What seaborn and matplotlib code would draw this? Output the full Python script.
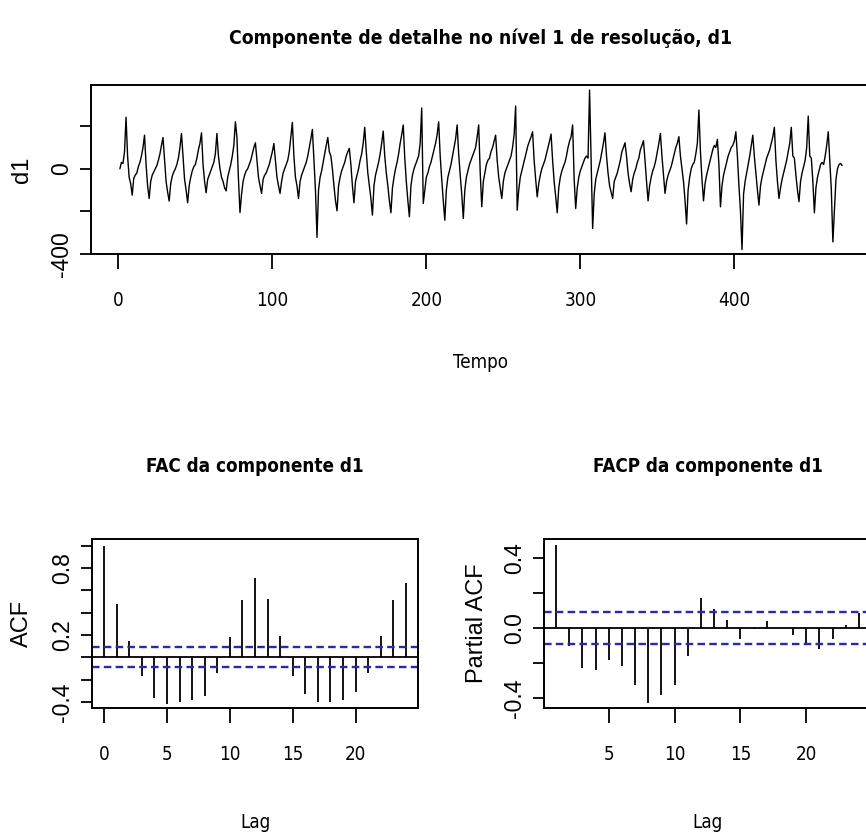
import numpy as np
import pandas as pd
import matplotlib
matplotlib.use("Agg")
import matplotlib.pyplot as plt
import seaborn as sns
from matplotlib import font_manager

# detail component d1 (t = 1..470)
d1_values = [
    0, 30, 25, 80, 242, 60, -40, -70, -124, -45,
    -30, -20, 10, 30, 60, 100, 158, 20, -80, -140,
    -60, -30, -15, 0, 15, 40, 70, 110, 147, 40,
    -60, -110, -152, -70, -35, -15, 0, 20, 50, 100,
    166, 60, -50, -100, -160, -80, -40, -10, 10, 20,
    50, 90, 120, 169, 20, -60, -113, -50, -30, -10,
    10, 30, 70, 166, 60, 0, -40, -60, -90, -104,
    -40, -10, 20, 60, 110, 221, 150, -50, -206, -120,
    -60, -30, -10, 0, 20, 40, 70, 100, 122, 40,
    -40, -80, -116, -50, -30, -20, 0, 20, 50, 80,
    119, 40, -40, -80, -116, -60, -20, 0, 20, 40,
    80, 150, 218, 60, -40, -80, -140, -60, -30, -10,
    10, 30, 60, 100, 140, 185, 40, -100, -323, -100,
    -40, -10, 30, 70, 110, 147, 80, 60, 0, -80,
    -150, -198, -80, -40, -10, 10, 30, 60, 80, 96,
    20, -80, -160, -60, -30, 0, 40, 70, 120, 195,
    80, -20, -80, -140, -218, -80, -30, 0, 30, 70,
    120, 177, 60, -20, -80, -150, -207, -90, -40, 0,
    30, 70, 120, 160, 206, 50, -60, -150, -226, -80,
    -30, 0, 20, 40, 60, 120, 286, -163, -100, -40,
    -20, 10, 30, 60, 90, 120, 160, 221, 60, -50,
    -150, -242, -100, -40, -10, 20, 60, 100, 140, 206,
    70, -30, -120, -234, -100, -40, -10, 20, 40, 60,
    80, 100, 150, 206, -20, -179, -60, -20, 20, 40,
    50, 80, 100, 130, 158, 40, -40, -90, -140, -60,
    -20, 0, 20, 40, 60, 100, 160, 295, -195, -100,
    -40, -10, 20, 50, 80, 110, 130, 150, 174, 40,
    -50, -132, -70, -30, 0, 20, 40, 70, 100, 130,
    163, 40, -60, -130, -207, -90, -40, -10, 10, 30,
    60, 100, 130, 150, 206, -50, -187, -90, -40, -10,
    10, 30, 50, 60, 50, 370, 40, -281, -120, -50,
    -20, 10, 40, 80, 120, 169, 60, -20, -80, -110,
    -140, -60, -40, -20, 10, 40, 80, 100, 122, 60,
    -20, -70, -108, -50, -20, 0, 30, 50, 90, 110,
    132, 40, -60, -151, -80, -40, -10, 10, 40, 80,
    120, 166, 60, -30, -116, -60, -30, -10, 10, 40,
    70, 100, 120, 151, 60, 0, -60, -150, -260, -100,
    -40, 0, 20, 30, 70, 120, 276, 80, -50, -151,
    -70, -30, 0, 30, 60, 90, 110, 100, 138, 20,
    -179, -80, -30, 0, 30, 60, 80, 100, 110, 130,
    174, 60, -80, -200, -380, -120, -60, -20, 20, 60,
    110, 158, 60, -20, -100, -171, -80, -40, -10, 20,
    50, 70, 90, 120, 150, 195, 40, -60, -140, -90,
    -50, -20, 10, 40, 80, 120, 195, 60, 50, -30,
    -100, -155, -60, -20, 10, 40, 100, 248, 60, 50,
    -60, -207, -90, -40, -10, 20, 30, 20, 60, 110,
    174, 40, -100, -344, -200, -50, 0, 20, 25, 15,
]

# sample autocorrelations, lags 0..24
acf_lags = list(range(0, 25))
acf_values = [1.0, 0.476, 0.143, -0.167, -0.36, -0.415, -0.40, -0.38, -0.345,
              -0.14, 0.18, 0.51, 0.715, 0.525, 0.195, -0.167, -0.33, -0.40,
              -0.40, -0.38, -0.315, -0.14, 0.195, 0.51, 0.665]

# partial autocorrelations, lags 1..24
pacf_lags = list(range(1, 25))
pacf_values = [0.476, -0.105, -0.229, -0.242, -0.185, -0.215, -0.328, -0.429,
               -0.385, -0.328, -0.162, 0.171, 0.109, 0.044, -0.061, -0.005,
               0.042, 0.003, -0.042, -0.09, -0.118, -0.061, 0.017, 0.086]

top_xticks = [0, 100, 200, 300, 400]
top_yticks = [-400, -200, 0, 200]
top_ylabels = ["-400", "", "0", ""]
acf_yticks = [-0.4, -0.2, 0.0, 0.2, 0.4, 0.6, 0.8, 1.0]
acf_ylabels = ["-0.4", "", "", "0.2", "", "", "0.8", ""]
pacf_yticks = [-0.4, -0.2, 0.0, 0.2, 0.4]
pacf_ylabels = ["-0.4", "", "0.0", "", "0.4"]

n = len(d1_values)
ci = 1.96 / np.sqrt(n)
series = pd.DataFrame({"Tempo": np.arange(1, n + 1), "d1": d1_values})

sns.set_theme(style="ticks")

# horizontal text in the reference is narrow; pick a condensed face if there is one
fonts = font_manager.fontManager.ttflist
names = {f.name for f in fonts}
condensed = {f.name for f in fonts if str(f.stretch) in ("condensed", "semi-condensed", "extra-condensed")}
if "Liberation Sans Narrow" in names:
    narrow, stretch, scale = "Liberation Sans Narrow", "normal", 1.0
elif "DejaVu Sans" in condensed:
    narrow, stretch, scale = "DejaVu Sans", "condensed", 0.9
elif "Open Sans" in condensed:
    narrow, stretch, scale = "Open Sans", "condensed", 0.9
else:
    narrow, stretch, scale = "Liberation Sans", "normal", 0.82

plt.rcParams["font.family"] = [narrow, "DejaVu Sans"]
plt.rcParams["font.stretch"] = stretch
for key in ["text.color", "axes.labelcolor", "xtick.color", "ytick.color", "axes.edgecolor"]:
    plt.rcParams[key] = "black"
plt.rcParams["axes.linewidth"] = 1.4
wide = ["Liberation Sans", "DejaVu Sans"]

W, H = 866, 840
fig = plt.figure(figsize=(W / 100, H / 100), dpi=100)


def px_axes(left, top, right, bottom):
    return fig.add_axes([left / W, 1 - bottom / H, (right - left) / W, (bottom - top) / H])


def r_style(ax, xticks, yticks, ylabels):
    ax.set_xticks(xticks)
    ax.set_xticklabels([str(t) for t in xticks])
    ax.set_yticks(yticks)
    ax.set_yticklabels(ylabels)
    ax.tick_params(axis="x", length=11, width=1.3, pad=16, labelsize=15 * scale)
    ax.tick_params(axis="y", length=8, width=1.3, pad=5, labelsize=16.5)
    for lab in ax.get_yticklabels():
        lab.set_rotation(90)
        lab.set_va("center")
        lab.set_family(wide)
        lab.set_stretch("normal")
    for side in ["top", "right", "bottom", "left"]:
        ax.spines[side].set_visible(True)
    ax.grid(False)


def labels(ax, title, xlab, ylab, title_y, xlab_y, ylab_x, title_size):
    ax.set_title(title, y=title_y, pad=0, va="center", fontsize=title_size * scale,
                 fontweight="bold")
    ax.set_xlabel(xlab, fontsize=15 * scale)
    ax.xaxis.set_label_coords(0.5, xlab_y)
    ax.xaxis.label.set_va("center")
    ax.set_ylabel(ylab, fontsize=17, family=wide, stretch="normal")
    ax.yaxis.set_label_coords(ylab_x, 0.5)
    ax.yaxis.label.set_va("center")


# 1. the d1 series
ax1 = px_axes(91, 85, 871, 254)
sns.lineplot(data=series, x="Tempo", y="d1", color="black", linewidth=1.0, ax=ax1)
ax1.set_xlim(1 - 0.04 * (n - 1), n + 0.04 * (n - 1))
ax1.set_ylim(-401, 394)
r_style(ax1, top_xticks, top_yticks, top_ylabels)
labels(ax1, "Componente de detalhe no nível 1 de resolução, d1", "Tempo", "d1",
       (254 - 38) / 169, (254 - 363) / 169, (22 - 91) / 780, 15.4)

# 2. ACF
ax2 = px_axes(92, 539, 418, 708)
ax2.vlines(acf_lags, 0, acf_values, color="black", linewidth=1.3)
ax2.axhline(0, color="black", linewidth=1.3)
for level in (ci, -ci):
    ax2.axhline(level, color="#2a2aa8", linewidth=1.7, linestyle=(0, (3.2, 1.8)))
ax2.set_xlim(-0.96, 24.96)
ax2.set_ylim(-0.454, 1.06)
r_style(ax2, [0, 5, 10, 15, 20], acf_yticks, acf_ylabels)
labels(ax2, "FAC da componente d1", "Lag", "ACF",
       (708 - 467) / 169, (708 - 822) / 169, (22 - 92) / 326, 15)

# 3. PACF
ax3 = px_axes(544, 539, 871, 708)
ax3.vlines(pacf_lags, 0, pacf_values, color="black", linewidth=1.3)
ax3.axhline(0, color="black", linewidth=1.3)
for level in (ci, -ci):
    ax3.axhline(level, color="#2a2aa8", linewidth=1.7, linestyle=(0, (3.2, 1.8)))
ax3.set_xlim(0.08, 24.92)
ax3.set_ylim(-0.457, 0.51)
r_style(ax3, [5, 10, 15, 20], pacf_yticks, pacf_ylabels)
labels(ax3, "FACP da componente d1", "Lag", "Partial ACF",
       (708 - 467) / 169, (708 - 822) / 169, (477 - 544) / 327, 15)

fig.savefig("out.png", dpi=100, facecolor="white")
